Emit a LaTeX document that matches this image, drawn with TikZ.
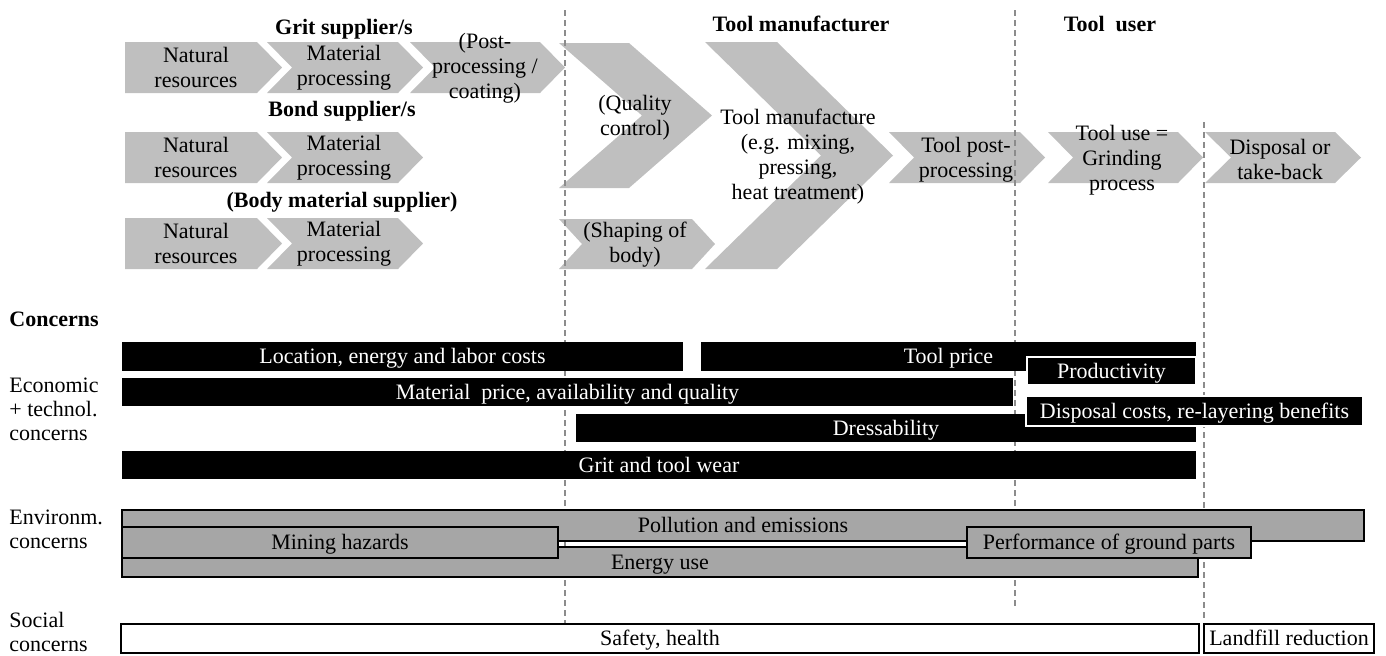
\documentclass[tikz,border=0pt]{standalone}
\usepackage{fontspec}
\setmainfont{Liberation Serif}
\usepackage{xcolor}
\usepackage{tikz}

\definecolor{chevgray}{RGB}{191,191,191}
\definecolor{bargray}{RGB}{166,166,166}
\definecolor{dashgray}{RGB}{140,140,140}

% chevron with notch: left x, top y, body width, height, tip depth
\newcommand{\chevron}[5]{\fill[chevgray] (#1,#2) -- ++(#3,0) -- ++(#5,#4/2) -- ++(-#5,#4/2) -- ++(-#3,0) -- ++(#5,-#4/2) -- cycle;}
% first chevron of a row, flat left side
\newcommand{\firstchevron}[5]{\fill[chevgray] (#1,#2) -- ++(#3,0) -- ++(#5,#4/2) -- ++(-#5,#4/2) -- ++(-#3,0) -- cycle;}

\begin{document}
\begin{tikzpicture}[x=0.5pt, y=-0.5pt,
    every node/.append style={font=\fontsize{11}{12.5}\selectfont},
    steptext/.style={align=center},
    heading/.style={font=\fontsize{11}{12.5}\selectfont\bfseries},
    rowlabel/.style={anchor=west, align=left, inner sep=0pt, font=\fontsize{11}{12}\selectfont},
    econ/.style={fill=black, text=white, inner sep=0pt, text height=7.3pt, text depth=0pt},
    econtop/.style={econ, draw=white, line width=1pt},
    env/.style={fill=bargray, draw=black, line width=1.2pt, inner sep=0pt, text height=7.3pt, text depth=0pt},
    soc/.style={fill=white, draw=black, line width=0.9pt, inner sep=0pt, text height=7.3pt, text depth=0pt},
    divider/.style={draw=dashgray, line width=0.65pt, dash pattern=on 3pt off 2pt}]
  \useasboundingbox (0,0) rectangle (1386,655);

  % Chevrons for suppliers
  \firstchevron{125}{42}{132}{51}{25}
  \chevron{267}{42}{131}{51}{25}
  \chevron{410}{42}{130}{51}{25}
  \firstchevron{125}{132}{132}{51}{25}
  \chevron{267}{132}{131}{51}{25}
  \firstchevron{125}{218}{132}{51}{25}
  \chevron{267}{218}{131}{51}{25}

  % Chevrons for manufacturer and user
  \chevron{559}{43}{70}{145}{83}
  \chevron{559}{219}{133}{50}{23}
  \chevron{705}{42}{72}{227}{116}
  \chevron{889}{132}{131}{51}{25}
  \chevron{1048}{132}{130}{51}{25}
  \chevron{1205}{132}{130}{51}{26}

  % Dashed separators
  \draw[divider] (565,10) -- (565,624);
  \draw[divider] (1015,10) -- (1015,608);
  \draw[divider] (1204,122) -- (1204,621);

  % Headings
  \node[heading] (grit) at (344,29) {Grit supplier/s};
  \node[heading] (bond) at (342,111) {Bond supplier/s};
  \node[heading] (body) at (342,202) {(Body material supplier)};
  \node[heading] (maker) at (801,24) {Tool manufacturer};
  \node[heading] (user) at (1110,24) {Tool~ user};

  % Step texts
  \node[steptext] (gritnat) at (196,67.5) {Natural\\resources};
  \node[steptext] (gritmat) at (344,67.5) {Material\\processing};
  \node[steptext] (gritpost) at (485,68) {(Post-\\processing /\\coating)};
  \node[steptext] (bondnat) at (196,157.5) {Natural\\resources};
  \node[steptext] (bondmat) at (344,157.5) {Material\\processing};
  \node[steptext] (bodynat) at (196,243.5) {Natural\\resources};
  \node[steptext] (bodymat) at (344,243.5) {Material\\processing};
  \node[steptext] (quality) at (635,118) {(Quality\\control)};
  \node[steptext] (shaping) at (635,245) {(Shaping of\\body)};
  \node[steptext] (manufacture) at (798,157) {Tool manufacture\\(e.g. mixing,\\pressing,\\heat treatment)};
  \node[steptext] (postproc) at (966,159.5) {Tool post-\\processing};
  \node[steptext] (tooluse) at (1122,160) {Tool use =\\Grinding\\process};
  \node[steptext] (disposal) at (1280,159) {Disposal or\\take-back};

  % Row labels
  \node[rowlabel, font=\fontsize{11}{12}\selectfont\bfseries] (concerns) at (9,319) {Concerns};
  \node[rowlabel] (econlabel) at (9,409) {Economic\\+ technol.\\concerns};
  \node[rowlabel] (envlabel) at (9,529) {Environm.\\concerns};
  \node[rowlabel] (soclabel) at (9,632) {Social\\concerns};

  % Economic and technological bars
  \node[econ, minimum width=280.5pt, minimum height=14.5pt] (loccost) at (402.5,356.5) {Location, energy and labor costs};
  \node[econ, minimum width=247.5pt, minimum height=14.5pt] (toolprice) at (948.5,356.5) {Tool price};
  \node[econtop, minimum width=84.5pt, minimum height=14pt] (productivity) at (1111.5,371) {Productivity};
  \node[econ, minimum width=445.5pt, minimum height=14pt] (matprice) at (567.5,392) {Material\ \ price, availability and quality};
  \node[econ, minimum width=310pt, minimum height=14pt] (dress) at (886,428) {Dressability};
  \node[econtop, minimum width=168.5pt, minimum height=15pt] (dispcost) at (1194.5,411) {Disposal costs, re-layering benefits};
  \node[econ, minimum width=537pt, minimum height=14pt] (wear) at (659,465) {Grit and tool wear};

  % Environmental bars
  \node[env, minimum width=621pt, minimum height=15.5pt] (pollution) at (743,525.5) {Pollution and emissions};
  \node[env, minimum width=538pt, minimum height=15pt] (energy) at (660,562) {Energy use};
  \node[env, minimum width=218pt, minimum height=15.5pt] (mining) at (340,542.5) {Mining hazards};
  \node[env, minimum width=142pt, minimum height=15.5pt] (performance) at (1109,542.5) {Performance of ground parts};

  % Social bars
  \node[soc, minimum width=539pt, minimum height=14.5pt] (safety) at (660,638.5) {Safety, health};
  \node[soc, minimum width=85pt, minimum height=14.5pt] (landfill) at (1289,638.5) {Landfill reduction};
\end{tikzpicture}
\end{document}
